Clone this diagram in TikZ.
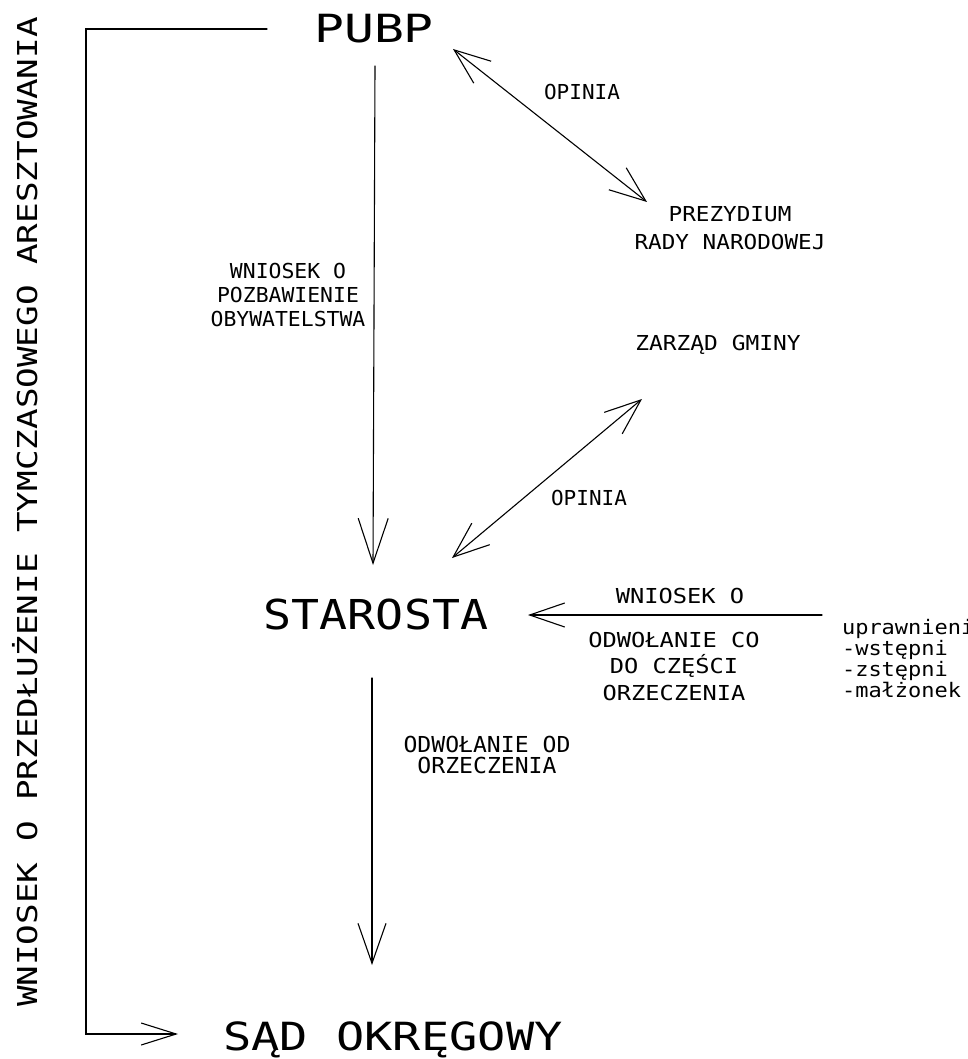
\documentclass[tikz,border=0pt]{standalone}
\usepackage{fontspec}
\usetikzlibrary{arrows.meta}
\newfontfamily\cad{DejaVu Sans Mono}
\newcommand\cadf[3]{\cad\addfontfeatures{FakeStretch=#2}\fontsize{#1}{#3}\selectfont}
\tikzset{
  lab/.style={inner sep=0pt, outer sep=0pt, text=black},
  ln/.style={line width=1.1pt, draw=black, line cap=round},
  >={Straight Barb[length=36pt,width=28pt]}
}
\begin{document}
\begin{tikzpicture}[x=1pt,y=1pt]
\useasboundingbox (0,0) rectangle (968,-1059);
% nodes
\node[lab, anchor=base, font=\cadf{38.8}{1.28}{40}] (pubp) at (374,-43) {PUBP};
\node[lab, anchor=base, font=\cadf{41.2}{1.13}{44}] (starosta) at (376,-629) {STAROSTA};
\node[lab, anchor=base, font=\cadf{38.8}{1.21}{40}] (sad) at (393,-1050) {SĄD OKRĘGOWY};
\node[lab, anchor=north, align=center, font=\cadf{20.6}{1.1}{28}] (prez) at (730,-206) {PREZYDIUM\\RADY NARODOWEJ};
\node[lab, anchor=base, font=\cadf{20.6}{1.11}{24}] (zarzad) at (718,-350) {ZARZĄD GMINY};
\node[lab, anchor=north west, align=left, font=\cadf{20}{1.1}{21}] (upr) at (842,-619) {uprawnieni:\\-wstępni\\-zstępni\\-małżonek};
% labels
\node[lab, anchor=base, font=\cadf{20.6}{1.02}{24}] (op1) at (582,-100) {OPINIA};
\node[lab, anchor=base, font=\cadf{20.6}{1.02}{24}] (op2) at (589,-505) {OPINIA};
\node[lab, anchor=north, align=center, font=\cadf{20.6}{1.04}{24}] (wn1) at (288,-263) {WNIOSEK O\\POZBAWIENIE\\OBYWATELSTWA};
\node[lab, anchor=base, font=\cadf{20.6}{1.15}{24}] (wn2) at (680,-603) {WNIOSEK O};
\node[lab, anchor=north, align=center, font=\cadf{20.6}{1.15}{26.5}] (odw1) at (674,-632) {ODWOŁANIE CO\\DO CZĘŚCI\\ORZECZENIA};
\node[lab, anchor=north, align=center, font=\cadf{22}{1.05}{21}] (odw2) at (487,-736) {ODWOŁANIE OD\\ORZECZENIA};
\node[lab, anchor=base, rotate=90, font=\cadf{27.4}{1.25}{30}] (side) at (37,-512) {WNIOSEK O PRZEDŁUŻENIE TYMCZASOWEGO ARESZTOWANIA};
% connectors
\draw[ln, -{Straight Barb[length=35pt,width=22pt]}] ([shift={(-107,14)}]pubp.base) -- ++(-181,0) |- ([shift={(-215,16)}]sad.base);
\draw[ln, -{Straight Barb[length=45pt,width=30pt]}] ([shift={(1,-23)}]pubp.base) -- ([shift={(-3,64)}]starosta.base);
\draw[ln, -{Straight Barb[length=40pt,width=28pt]}] ([shift={(-4,-49)}]starosta.base) -- ([shift={(-21,85)}]sad.base);
\draw[ln, <->] ([shift={(79,-6)}]pubp.base) -- ([shift={(-83,4)}]prez.north);
\draw[ln, <->] ([shift={(-76,-49)}]zarzad.base) -- ([shift={(76,71)}]starosta.base);
\draw[ln, -{Straight Barb[length=35pt,width=24pt]}] ([shift={(-20,4)}]upr.north west) -- ([shift={(152,14)}]starosta.base);
\end{tikzpicture}
\end{document}
